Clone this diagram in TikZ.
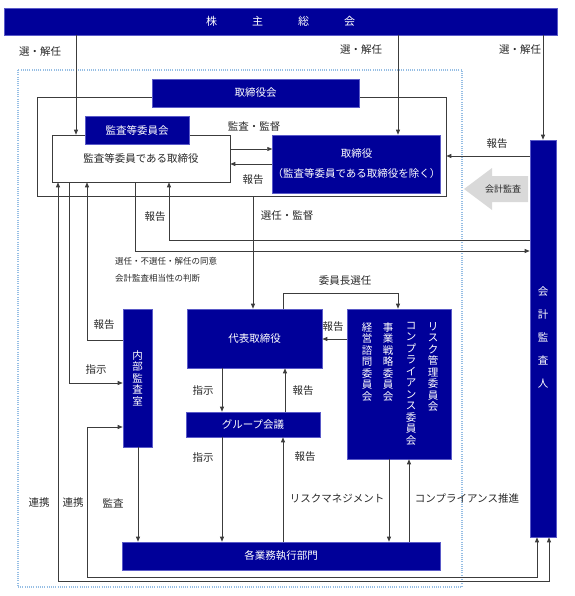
\documentclass[tikz,border=0pt]{standalone}
\usepackage{fontspec}
\setmainfont{Noto Sans CJK JP}
\usetikzlibrary{arrows.meta}
\definecolor{navy}{RGB}{0,0,153}
\definecolor{navyedge}{RGB}{90,90,200}
\definecolor{dotblue}{RGB}{150,190,228}
\definecolor{ln}{RGB}{60,60,60}
\definecolor{arrgray}{RGB}{217,217,217}
\definecolor{txt}{RGB}{40,40,40}
\begin{document}
\begin{tikzpicture}[x=1pt,y=-1pt,
  bluebox/.style={draw=navyedge, line width=0.6pt, fill=navy, text=white, inner sep=0pt, font=\fontsize{10.5}{12}\selectfont},
  whitebox/.style={draw=ln, line width=0.6pt, fill=white, text=txt, inner sep=0pt, font=\fontsize{10.5}{12}\selectfont},
  lbl/.style={font=\fontsize{10.5}{12}\selectfont, text=txt, inner sep=0pt},
  smalllbl/.style={font=\fontsize{8.5}{10}\selectfont, text=txt, inner sep=0pt, anchor=west},
  con/.style={draw=ln, line width=0.7pt},
  arr/.style={con, -{Triangle[length=5pt,width=4pt]}},
  darr/.style={con, {Triangle[length=5pt,width=4pt]}-{Triangle[length=5pt,width=4pt]}},
  vtxt/.style={font=\fontsize{10.5}{11.5}\selectfont, text=white, inner sep=0pt, align=center, anchor=north}
]
\useasboundingbox (0,0) rectangle (574,596);

% column / row coordinates
\foreach \xv in {58,69,76,87,135,138,169,222,253,283,285,389,398,409,537,543,549}
  \coordinate (x\xv) at (\xv,0);
\foreach \yv in {149,156,164,240,251,293,339,340,383,427,577,581}
  \coordinate (y\yv) at (0,\yv);

% dotted group
\draw[dotblue, line width=1.3pt, dash pattern=on 1pt off 1.2pt] (18,70) rectangle (462,587);

% boxes
\node[bluebox, minimum width=553pt, minimum height=27pt, font=\fontsize{11}{12}\selectfont] (sh) at (280.5,21.5)
  {株\hspace{35pt}主\hspace{35pt}総\hspace{35pt}会};
\node[draw=ln, line width=0.6pt, minimum width=409pt, minimum height=99pt, inner sep=0pt] (frame) at (241.5,146.5) {};
\node[bluebox, minimum width=207pt, minimum height=28pt] (bh) at (255.5,93) {取締役会};
\node[whitebox, minimum width=178pt, minimum height=47pt] (kt) at (141,158.5) {\raisebox{-3pt}{監査等委員である取締役}};
\node[bluebox, minimum width=104pt, minimum height=28pt] (kc) at (137,130) {監査等委員会};
\node[bluebox, minimum width=165pt, minimum height=58pt, align=center, font=\fontsize{10.5}{20}\selectfont] (tb) at (356.5,164)
  {取締役\\（監査等委員である取締役を除く）};
\node[bluebox, minimum width=26pt, minimum height=397pt] (ka) at (543,338.5) {};
\node[vtxt, font=\fontsize{10.5}{23}\selectfont] (katext) at (543,286) {会\\計\\監\\査\\人};
\node[bluebox, minimum width=135pt, minimum height=59pt] (dt) at (254.5,338.5) {代表取締役};
\node[bluebox, minimum width=104pt, minimum height=150pt] (com) at (399,384) {};
\node[vtxt] (c1) at (433,322) {リ\\ス\\ク\\管\\理\\委\\員\\会};
\node[vtxt] (c2) at (411,322) {コ\\ン\\プ\\ラ\\イ\\ア\\ン\\ス\\委\\員\\会};
\node[vtxt] (c3) at (388,322) {事\\業\\戦\\略\\委\\員\\会};
\node[vtxt] (c4) at (367,322) {経\\営\\諮\\問\\委\\員\\会};
\node[bluebox, minimum width=29pt, minimum height=138pt] (nb) at (137.5,378) {};
\node[vtxt] (nbtext) at (137.5,350) {内\\部\\監\\査\\室};
\node[bluebox, minimum width=134pt, minimum height=25pt] (gk) at (253,424.5) {グループ会議};
\node[bluebox, minimum width=318pt, minimum height=28pt] (gy) at (281,556) {各業務執行部門};

% gray block arrow
\fill[arrgray] (528,176) -- (492,176) -- (492,168) -- (464,189) -- (492,210) -- (492,202) -- (528,202) -- cycle;
\node[lbl, font=\fontsize{9}{10}\selectfont] (kaikei) at (503,189) {会計監査};

% connectors from shareholders
\draw[arr] (x76 |- sh.south) -- (x76 |- kt.north);
\draw[arr] (x398 |- sh.south) -- (x398 |- tb.north);
\draw[arr] (x543 |- sh.south) -- (x543 |- ka.north);

% between kt and tb
\draw[arr] (kt.east |- y149) -- (tb.west |- y149);
\draw[arr] (tb.west |- y164) -- (kt.east |- y164);
% ka -> frame
\draw[arr] (ka.west |- y156) -- (frame.east |- y156);
% frame -> dt
\draw[arr] (x253 |- frame.south) -- (x253 |- dt.north);
% kt -> ka report
\draw[arr] (x135 |- kt.south) -- (x135 |- y251) -- (ka.west |- y251);
% ka -> kt report
\draw[arr] (ka.west |- y240) -- (x169 |- y240) -- (x169 |- kt.south);
% cooperation kt <-> ka
\draw[darr] (x58 |- kt.south) -- (x58 |- y581) -- (x549 |- y581) -- (x549 |- ka.south);
% nb -> kt report
\draw[arr] (nb.west |- y340) -- (x87 |- y340) -- (x87 |- kt.south);
% kt -> nb instruction
\draw[arr] (x69 |- kt.south) -- (x69 |- y383) -- (nb.west |- y383);
% cooperation nb <-> ka
\draw[darr] (nb.west |- y427) -- (x87 |- y427) -- (x87 |- y577) -- (x537 |- y577) -- (x537 |- ka.south);
% nb -> gy audit
\draw[arr] (x138 |- nb.south) -- (x138 |- gy.north);
% dt <-> gk
\draw[arr] (x222 |- dt.south) -- (x222 |- gk.north);
\draw[arr] (x285 |- gk.north) -- (x285 |- dt.south);
% gk <-> gy
\draw[arr] (x222 |- gk.south) -- (x222 |- gy.north);
\draw[arr] (x283 |- gy.north) -- (x283 |- gk.south);
% dt -> com chair selection
\draw[arr] (x283 |- dt.north) -- (x283 |- y293) -- (x398 |- y293) -- (x398 |- com.north);
% com -> dt report
\draw[arr] (com.west |- y339) -- (dt.east |- y339);
% com <-> gy
\draw[arr] (x389 |- com.south) -- (x389 |- gy.north);
\draw[arr] (x409 |- gy.north) -- (x409 |- com.south);

% labels
\node[lbl] (l1) at (40,52) {選・解任};
\node[lbl] (l2) at (361,50) {選・解任};
\node[lbl] (l3) at (520,50) {選・解任};
\node[lbl] (l4) at (254,127) {監査・監督};
\node[lbl] (l5) at (253,180) {報告};
\node[lbl] (l6) at (497,144) {報告};
\node[lbl] (l7) at (155,217) {報告};
\node[lbl] (l8) at (287,216) {選任・監督};
\node[smalllbl] (l9) at (115,261) {選任・不選任・解任の同意};
\node[smalllbl] (l10) at (115,278) {会計監査相当性の判断};
\node[lbl] (l11) at (345,281) {委員長選任};
\node[lbl] (l12) at (104,325) {報告};
\node[lbl] (l13) at (96,370) {指示};
\node[lbl] (l14) at (333,327) {報告};
\node[lbl] (l15) at (203,391) {指示};
\node[lbl] (l16) at (303,391) {報告};
\node[lbl] (l17) at (203,458) {指示};
\node[lbl] (l18) at (305,457) {報告};
\node[lbl] (l19) at (39,503) {連携};
\node[lbl] (l20) at (73,503) {連携};
\node[lbl] (l21) at (113,503) {監査};
\node[lbl] (l22) at (337,498) {リスクマネジメント};
\node[lbl] (l23) at (467,498) {コンプライアンス推進};
\end{tikzpicture}
\end{document}
